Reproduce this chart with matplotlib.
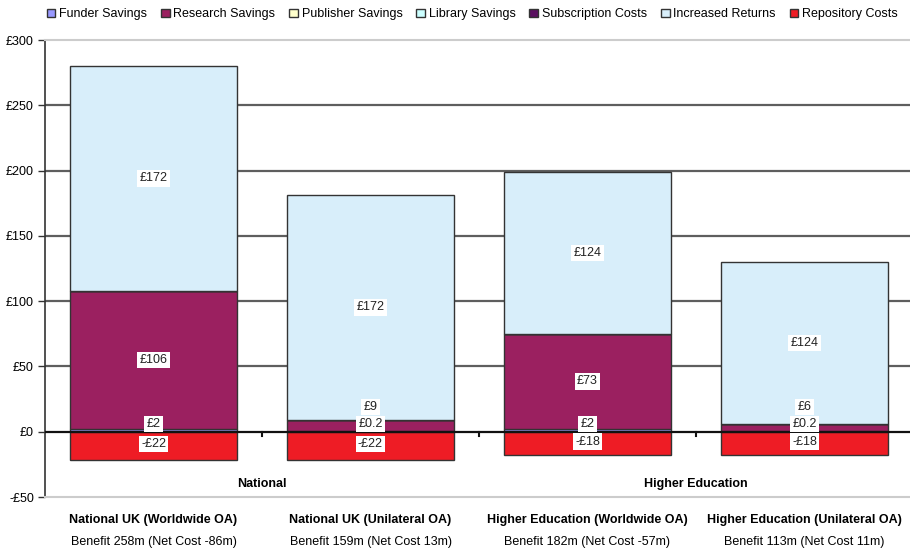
import matplotlib
matplotlib.use("Agg")
import matplotlib.pyplot as plt
import numpy as np

plt.rcParams['font.family'] = ['Liberation Sans Narrow', 'Liberation Sans', 'DejaVu Sans']

categories = ["National UK (Worldwide OA)", "National UK (Unilateral OA)",
              "Higher Education (Worldwide OA)", "Higher Education (Unilateral OA)"]
subtitles = ["Benefit 258m (Net Cost -86m)", "Benefit 159m (Net Cost 13m)",
             "Benefit 182m (Net Cost -57m)", "Benefit 113m (Net Cost 11m)"]
groups = ["National", "Higher Education"]

series_names = ["Funder Savings", "Research Savings", "Publisher Savings", "Library Savings",
                "Subscription Costs", "Increased Returns", "Repository Costs"]
funder = [2, 0.2, 2, 0.2]
research = [106, 9, 73, 6]
publisher = [0, 0, 0, 0]
library = [0, 0, 0, 0]
subscription = [0, 0, 0, 0]
increased = [172, 172, 124, 124]
repository = [-22, -22, -18, -18]
label_texts = {
    "Funder Savings": ["£2", "£0.2", "£2", "£0.2"],
    "Research Savings": ["£106", "£9", "£73", "£6"],
    "Increased Returns": ["£172", "£172", "£124", "£124"],
    "Repository Costs": ["-£22", "-£22", "-£18", "-£18"],
}
yticks = [-50, 0, 50, 100, 150, 200, 250, 300]
ytick_labels = ["-£50", "£0", "£50", "£100", "£150", "£200", "£250", "£300"]

colors = {"Funder Savings": "#9999ff", "Research Savings": "#9b2060",
          "Publisher Savings": "#ffffcc", "Library Savings": "#ccffff",
          "Subscription Costs": "#5a1060", "Increased Returns": "#d8eefa",
          "Repository Costs": "#ee1c25"}

data = {"Funder Savings": funder, "Research Savings": research,
        "Publisher Savings": publisher, "Library Savings": library,
        "Subscription Costs": subscription, "Increased Returns": increased,
        "Repository Costs": repository}

fig = plt.figure(figsize=(9.10, 5.52), dpi=100)
ax = fig.add_axes([45/910, 55/552, 868/910, 457/552])

x = np.arange(len(categories))
width = 0.765
pos_bottom = np.zeros(len(categories))
neg_bottom = np.zeros(len(categories))
handles = []
label_positions = {}
for name in series_names:
    vals = np.array(data[name], dtype=float)
    bottoms = np.where(vals >= 0, pos_bottom, neg_bottom)
    b = ax.bar(x, vals, width, bottom=bottoms, color=colors[name],
               edgecolor="#333333", linewidth=1.0, zorder=3, label=name)
    handles.append(b)
    label_positions[name] = bottoms + vals / 2
    pos_bottom = pos_bottom + np.where(vals >= 0, vals, 0)
    neg_bottom = neg_bottom + np.where(vals < 0, vals, 0)

# data labels with simple overlap avoidance
for i in range(len(categories)):
    placed = []
    for name in ["Funder Savings", "Research Savings", "Increased Returns"]:
        y = max(label_positions[name][i], 6)
        if placed:
            y = max(y, placed[-1] + 13)
        placed.append(y)
        ax.text(x[i], y, label_texts[name][i], ha="center", va="center", fontsize=9,
                color="#222222", zorder=5,
                bbox=dict(facecolor="white", edgecolor="none", pad=1.5))
    ax.text(x[i], label_positions["Repository Costs"][i] + 1.5,
            label_texts["Repository Costs"][i], ha="center", va="center", fontsize=9,
            color="#222222", zorder=5,
            bbox=dict(facecolor="white", edgecolor="none", pad=1.5))

ax.set_xlim(-0.5, 3.5)
ax.set_ylim(-50, 300)
ax.set_yticks(yticks)
ax.set_yticklabels(ytick_labels, fontsize=9)
ax.tick_params(axis="y", length=5, width=1, color="#333333", pad=3)
ax.set_xticks([])

for v in yticks[2:-1]:
    ax.axhline(v, color="#5e5e5e", linewidth=1.6, zorder=1)
ax.axhline(0, color="#111111", linewidth=1.6, zorder=4)
for bnd in [0.5, 1.5, 2.5]:
    ax.plot([bnd, bnd], [0, -3], color="#111111", linewidth=1.5, zorder=4, clip_on=False)

ax.spines["right"].set_visible(False)
ax.spines["top"].set_color("#cccccc")
ax.spines["top"].set_linewidth(1.5)
ax.spines["bottom"].set_color("#cccccc")
ax.spines["bottom"].set_linewidth(1.5)
ax.spines["left"].set_color("#333333")
ax.spines["left"].set_linewidth(1.2)

# group labels
for gi, g in enumerate(groups):
    ax.text(gi * 2 + 0.5, -40, g, ha="center", va="center", fontsize=9, fontweight="bold")

# category labels
for i in range(len(categories)):
    ax.text(x[i], -67.5, categories[i], ha="center", va="center", fontsize=9,
            fontweight="bold", clip_on=False)
    ax.text(x[i], -84.5, subtitles[i], ha="center", va="center", fontsize=9, clip_on=False)

fig.legend(handles=handles, labels=series_names, loc="upper center",
           bbox_to_anchor=(0.519, 1.005), ncol=7, frameon=False, fontsize=9,
           handlelength=0.7, handleheight=0.7, handletextpad=0.3, columnspacing=1.1)

fig.savefig("out.png", dpi=100)
